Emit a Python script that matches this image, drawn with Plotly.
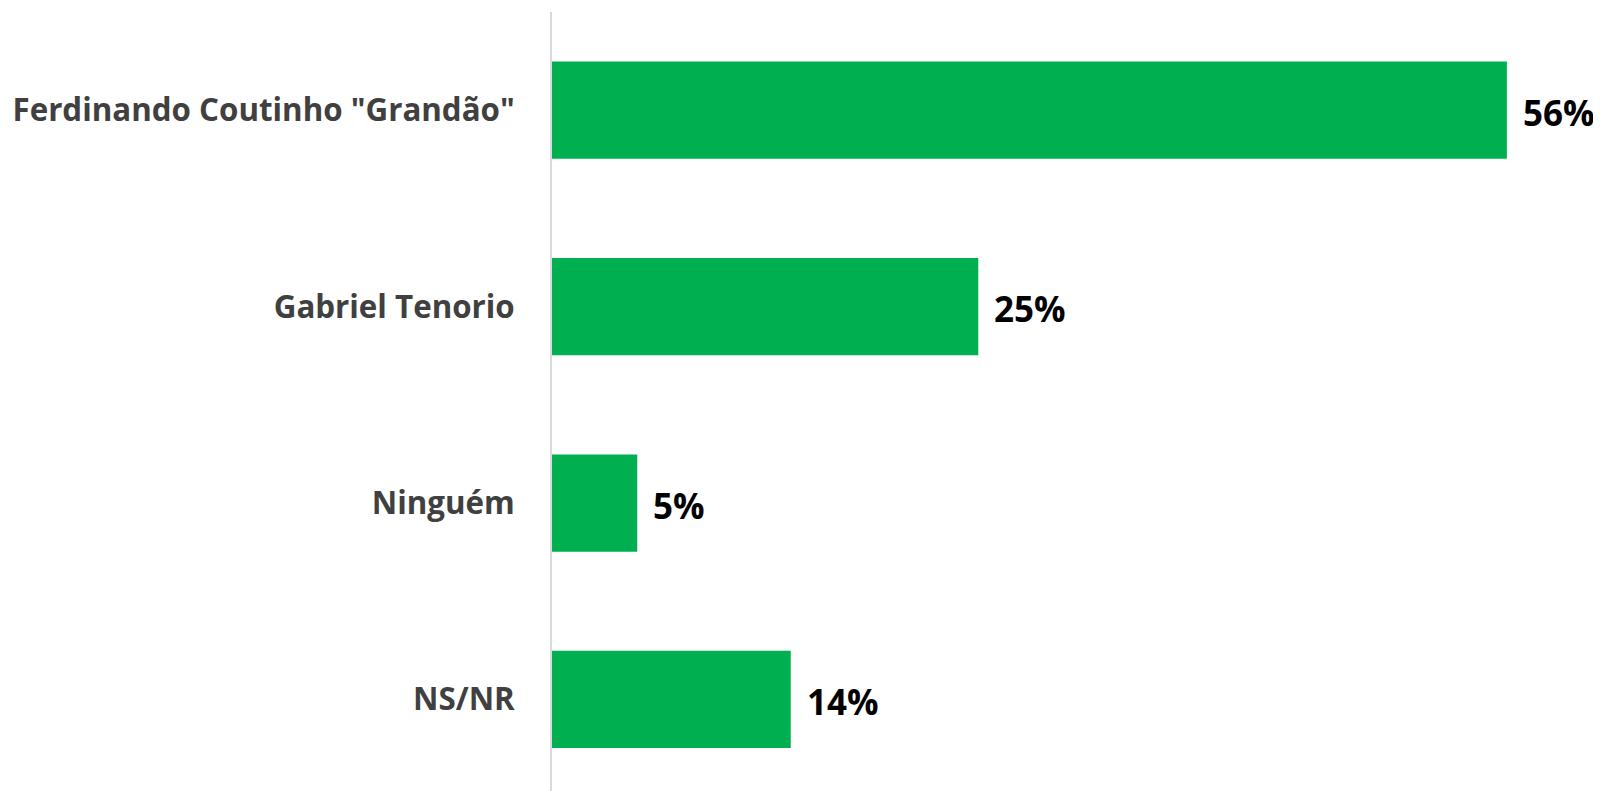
import plotly.graph_objects as go

categories = ['Ferdinando Coutinho "Grandão"', "Gabriel Tenorio", "Ninguém", "NS/NR"]
values = [56, 25, 5, 14]
labels = ["56%", "25%", "5%", "14%"]

BAR_COLOR = "#00B050"

fig = go.Figure()
fig.add_trace(go.Bar(
    x=values,
    y=categories,
    orientation="h",
    marker=dict(color=BAR_COLOR, line=dict(width=0)),
    hoverinfo="skip",
))

for c, v, t in zip(categories, values, labels):
    fig.add_annotation(
        x=v, y=c, text=t, showarrow=False,
        xanchor="left", yanchor="middle", xshift=14, yshift=-2,
        font=dict(family="Open Sans", size=35, color="#000000", weight="bold"),
    )

fig.update_layout(
    width=1593, height=783,
    margin=dict(l=544, r=0, t=4, b=0),
    paper_bgcolor="white", plot_bgcolor="white",
    bargap=0.505,
    showlegend=False,
    xaxis=dict(range=[0, 61.52], showgrid=False, zeroline=False,
               showticklabels=False, showline=False, fixedrange=True),
    yaxis=dict(categoryorder="array", categoryarray=categories,
               range=[3.466, -0.5], showgrid=False, zeroline=False,
               showline=True, linecolor="#D9D9D9", linewidth=2,
               ticks="", ticklabelstandoff=29,
               tickfont=dict(family="Open Sans", size=31.3, color="#404040", weight="bold")),
)

fig.write_html("out.html")
